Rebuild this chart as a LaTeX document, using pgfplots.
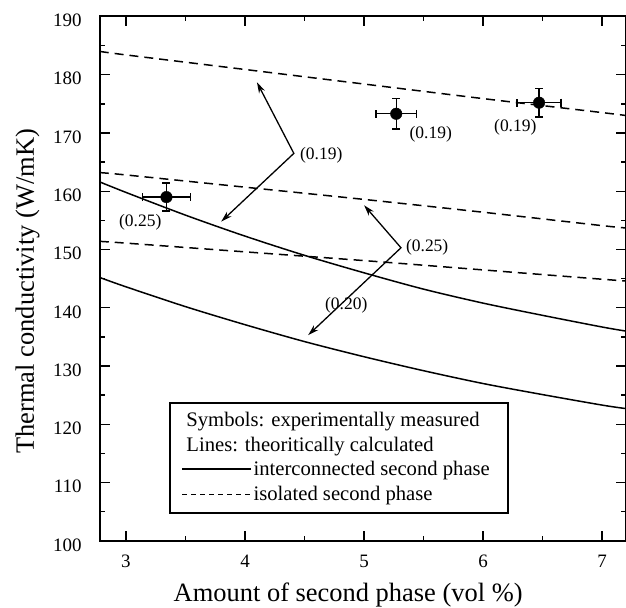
\documentclass[border=0pt]{standalone}
\usepackage{fontspec}
\setmainfont{Liberation Serif}
\usepackage{pgfplots}
\pgfplotsset{compat=1.18}
\usetikzlibrary{arrows.meta,calc}

\begin{document}
\begin{tikzpicture}
\begin{axis}[name=ax,
  scale only axis, width=527.3pt, height=525.5pt,
  xmin=2.78, xmax=7.2, ymin=100, ymax=190,
  xtick={3,4,5,6,7}, minor xtick={3.5,4.5,5.5,6.5},
  ytick={100,110,...,190}, minor ytick={105,115,...,185},
  tick align=inside, major tick length=10pt, minor tick length=5pt,
  every tick/.style={black, line width=1.4pt},
  axis line style={line width=2pt},
  /pgf/number format/assume math mode=true,
  ticklabel style={font=\fontsize{19}{21}\selectfont},
  xticklabel style={inner sep=0pt, anchor=north, yshift=-14pt},
  yticklabel style={inner sep=0pt, anchor=east, xshift=-18pt, yshift=-4pt},
  xlabel={Amount of second phase (vol \%)},
  ylabel={Thermal conductivity (W/mK)},
  label style={font=\fontsize{26.5}{30}\selectfont},
  xlabel style={at={(axis description cs:0.472,-0.116)}, anchor=base},
  ylabel style={at={(axis description cs:-0.1252,0.476)}, anchor=base},
]
% isolated second phase (dashed)
\addplot[black, line width=1.5pt, dash pattern=on 9pt off 6pt, smooth] coordinates {
 (2.78,184.0) (3,183.4) (4,180.9) (5,178.4) (6,175.9) (7,173.5) (7.2,173.0)};
\addplot[black, line width=1.5pt, dash pattern=on 9pt off 6pt, smooth] coordinates {
 (2.78,163.2) (3,162.8) (4,160.7) (5,158.6) (6,156.4) (7,154.1) (7.2,153.7)};
\addplot[black, line width=1.5pt, dash pattern=on 9pt off 6pt, smooth] coordinates {
 (2.78,151.4) (3,151.1) (4,149.6) (5,148.1) (6,146.5) (7,144.9) (7.2,144.6)};
% interconnected second phase (solid)
\addplot[black, line width=1.5pt, smooth] coordinates {
 (2.78,161.6) (3,159.8) (3.5,155.9) (4,152.3) (4.5,149.0) (5,146.0) (5.5,143.2) (6,140.8) (6.5,138.7) (7,136.7) (7.2,136.0)};
\addplot[black, line width=1.5pt, smooth] coordinates {
 (2.78,145.2) (3,143.6) (3.5,140.2) (4,137.1) (4.5,134.2) (5,131.6) (5.5,129.2) (6,127.0) (6.5,125.1) (7,123.3) (7.2,122.7)};
% experimental points
\addplot[black, only marks, mark=*, mark size=5.8pt,
  error bars/.cd, x dir=both, x explicit, y dir=both, y explicit,
  error bar style={line width=1.4pt},
  error mark options={rotate=90, mark size=4pt, line width=1.4pt}]
  coordinates {
  (3.34,159.0) +- (0.20,2.4)
  (5.27,173.3) +- (0.17,2.6)
  (6.47,175.2) +- (0.185,2.45)};

% annotations
\begin{scope}[every node/.style={font=\fontsize{17.5}{20}\selectfont}]
\node at (axis cs:5.56,169.7) {(0.19)};
\node at (axis cs:6.27,170.9) {(0.19)};
\node at (axis cs:3.12,154.6) {(0.25)};
\node at (axis cs:4.64,166.1) {(0.19)};
\node at (axis cs:5.53,150.3) {(0.25)};
\node at (axis cs:4.85,140.4) {(0.20)};
\end{scope}
\draw[line width=1.3pt, {Stealth[length=11pt,width=6.5pt]}-{Stealth[length=11pt,width=6.5pt]}]
  (axis cs:4.10,178.7) -- (axis cs:4.41,166.5) -- (axis cs:3.80,154.8);
\draw[line width=1.3pt, {Stealth[length=11pt,width=6.5pt]}-{Stealth[length=11pt,width=6.5pt]}]
  (axis cs:5.00,157.6) -- (axis cs:5.31,150.3) -- (axis cs:4.53,135.3);

% legend box
\draw[line width=1.8pt, fill=white] (axis cs:3.37,104.8) rectangle (axis cs:6.21,123.6);
\begin{scope}[every node/.style={anchor=west, inner sep=0pt, font=\fontsize{20.7}{24}\selectfont}]
\node at (axis cs:3.506,120.4) {Symbols: experimentally measured};
\node at (axis cs:3.506,116.2) {Lines: theoritically calculated};
\node at (axis cs:4.07,112.0) {interconnected second phase};
\node at (axis cs:4.07,107.8) {isolated second phase};
\end{scope}
\draw[line width=1.5pt] (axis cs:3.472,112.3) -- (axis cs:4.05,112.3);
\draw[line width=1.5pt, dash pattern=on 5pt off 4pt] (axis cs:3.472,108.0) -- (axis cs:4.05,108.0);
\end{axis}
\pgfresetboundingbox
\path ($(ax.south west)+(-100pt,-67pt)$) rectangle ($(ax.north east)+(0pt,16.5pt)$);
\end{tikzpicture}
\end{document}
